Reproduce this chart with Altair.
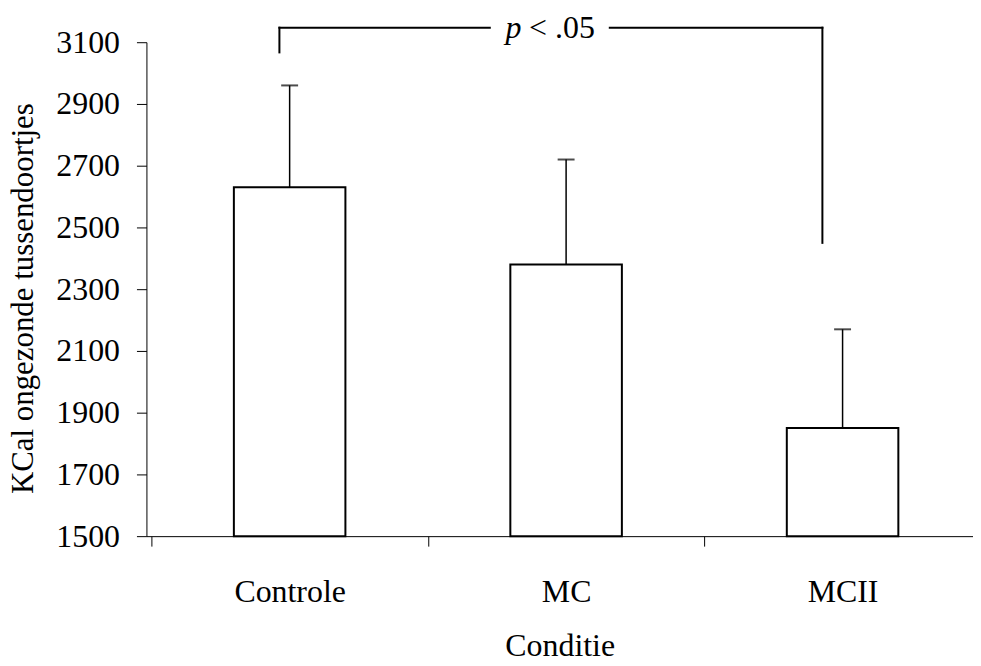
import altair as alt
import pandas as pd

# ---- data ----
categories = ["Controle", "MC", "MCII"]
cat_pos = [0.5, 1.5, 2.5]          # band centres in category units
means = [2630, 2380, 1850]
upper = [2960, 2720, 2170]
base_value = [1500, 1500, 1500]

y_ticks = [1500, 1700, 1900, 2100, 2300, 2500, 2700, 2900, 3100]
x_boundaries = [0, 1, 2]

# significance bracket (x in category units, y in KCal)
seg_x = [0.463, 0.463, 1.658, 2.427]
seg_x2 = [0.463, 1.224, 2.427, 2.427]
seg_y = [3067, 3147, 3147, 3147]
seg_y2 = [3147, 3147, 3147, 2450]
label_parts = ["p", "< .05"]
label_x = [1.281, 1.366]
label_y = [3147, 3147]

df = pd.DataFrame({"cat": categories, "pos": cat_pos, "mean": means,
                   "upper": upper, "base": base_value})
seg_df = pd.DataFrame({"x": seg_x, "x2": seg_x2, "y": seg_y, "y2": seg_y2})
lab_df = pd.DataFrame({"t": label_parts, "x": label_x, "y": label_y})

FONT = "Liberation Serif"
PLOT_W = 830
BAND = 281

yscale = alt.Scale(domain=[1500, 3100], nice=False, zero=False)
xscale = alt.Scale(domain=[0, PLOT_W / BAND], nice=False, zero=False)

label_expr = " : ".join(
    f"datum.value == {p} ? '{c}'" for p, c in zip(cat_pos[:-1], categories[:-1])
) + f" : '{categories[-1]}'"

x_tick_axis = alt.Axis(
    values=x_boundaries, labels=False, tickSize=10, tickColor="black",
    domainColor="black", grid=False, title=None, orient="bottom",
)
x_label_axis = alt.Axis(
    values=cat_pos, labelExpr=label_expr, ticks=False, tickSize=0, domain=False,
    labelFontSize=32, labelFont=FONT, labelColor="black", labelAngle=0,
    labelBaseline="alphabetic", labelPadding=66, labelAlign="center",
    title="Conditie", titleFont=FONT, titleFontSize=32, titleFontWeight="normal",
    titleColor="black", titleY=120, titleBaseline="alphabetic", grid=False,
    orient="bottom",
)
yaxis = alt.Axis(
    values=y_ticks, format="d", tickSize=10, tickColor="black", domainColor="black",
    labelFontSize=32, labelFont=FONT, labelColor="black", labelPadding=17,
    title="KCal ongezonde tussendoortjes", titleFont=FONT, titleFontSize=31,
    titleFontWeight="normal", titleColor="black", titleAngle=270,
    titleX=-114, titleY=257, titleAlign="center", titleBaseline="alphabetic",
    grid=False,
)

base = alt.Chart(df)

bars = base.mark_bar(size=112, fill="white", stroke="black", strokeWidth=2).encode(
    x=alt.X("pos:Q", scale=xscale, axis=x_tick_axis),
    y=alt.Y("mean:Q", scale=yscale, axis=yaxis),
    y2="base:Q",
)
err = base.mark_rule(color="black", strokeWidth=1.5).encode(
    x=alt.X("pos:Q", scale=xscale, axis=x_label_axis),
    y=alt.Y("mean:Q", scale=yscale, axis=None),
    y2="upper:Q",
)
caps = base.mark_tick(color="black", size=17, thickness=2, orient="horizontal").encode(
    x=alt.X("pos:Q", scale=xscale, axis=None),
    y=alt.Y("upper:Q", scale=yscale, axis=None),
)

segs = alt.Chart(seg_df).mark_rule(color="black", strokeWidth=2, strokeCap="square").encode(
    x=alt.X("x:Q", scale=xscale, axis=None),
    x2="x2:Q",
    y=alt.Y("y:Q", scale=yscale, axis=None),
    y2="y2:Q",
)
lab_base = alt.Chart(lab_df)
lab_p = lab_base.transform_filter(alt.datum.t == "p").mark_text(
    font=FONT, fontSize=32, align="left", baseline="middle", color="black",
    fontStyle="italic",
).encode(
    x=alt.X("x:Q", scale=xscale, axis=None),
    y=alt.Y("y:Q", scale=yscale, axis=None),
    text="t:N",
)
lab_rest = lab_base.transform_filter(alt.datum.t != "p").mark_text(
    font=FONT, fontSize=32, align="left", baseline="middle", color="black",
).encode(
    x=alt.X("x:Q", scale=xscale, axis=None),
    y=alt.Y("y:Q", scale=yscale, axis=None),
    text="t:N",
)

chart = alt.layer(bars, err, caps, segs, lab_p, lab_rest).resolve_axis(
    x="independent", y="independent"
).properties(
    width=PLOT_W, height=496,
    autosize=alt.AutoSizeParams(type="none"),
    padding={"left": 139, "top": 33, "right": 0, "bottom": 121},
    background="white",
).configure_view(stroke=None)

chart.save("out.html", embed_options={"renderer": "svg", "actions": False})
